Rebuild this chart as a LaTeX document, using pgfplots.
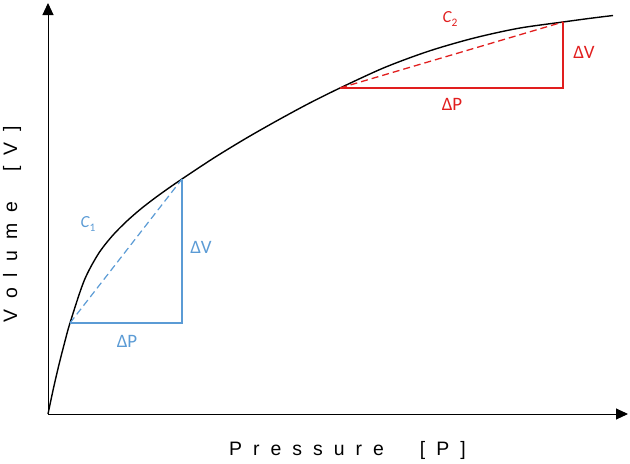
\documentclass[border=0pt]{standalone}
\usepackage{pgfplots}
\pgfplotsset{compat=1.18}
\usepackage{fontspec}
\setmainfont{Liberation Sans}
\newfontfamily\calib{Carlito}
\usetikzlibrary{arrows.meta}
\definecolor{cblue}{RGB}{91,155,213}
\definecolor{cred}{RGB}{225,30,30}
\newcommand{\lsp}{\hspace{11bp}}
\newcommand{\cc}[1]{{\calib\itshape\fontsize{17}{19}\selectfont C}\raisebox{-3.5bp}{\calib\fontsize{11.5}{12}\selectfont #1}}
\begin{document}
\begin{tikzpicture}
\useasboundingbox (-48bp,-50bp) rectangle (582bp,414bp);
\begin{axis}[
  at={(0,0)}, anchor=origin,
  x=1bp, y=1bp,
  xmin=0, xmax=580, ymin=0, ymax=411,
  axis lines=left,
  axis line style={line width=1pt,-{Triangle[length=12bp,width=11bp]}},
  xtick=\empty, ytick=\empty,
  clip=false,
]
\addplot[black, line width=1.4pt, smooth, tension=0.5] coordinates {
(0,0)(5.5,25.9)(11,49.5)(16.5,71)(22,91)(36,133)(50,159.6)(64,177.8)(78,192.1)(92,204.4)(106,215.3)(120,225.4)(134,235)(165.6,255.9)(197.2,275.2)(228.8,293.2)(260.4,310.3)(292,326)(336.6,346.5)(381.2,363)(425.8,375.9)(470.4,385.7)(515,392)(540,395.4)(565,398.5)};
\addplot[cblue, line width=1.2pt] coordinates {(22,91)(134,91)(134,235)};
\addplot[cblue, line width=1.2pt, dash pattern=on 7bp off 4bp] coordinates {(22,91)(134,235)};
\addplot[cred, line width=1.2pt] coordinates {(292,326)(515,326)(515,392)};
\addplot[cred, line width=1.3pt, dash pattern=on 7bp off 4bp] coordinates {(292,326)(515,392)};
\node[cblue] at (axis cs:40,190) {\cc{1}};
\node[cred] at (axis cs:402,395) {\cc{2}};
\node[cblue, font=\calib\fontsize{19}{21}\selectfont] at (axis cs:153,167) {ΔV};
\node[cblue, font=\calib\fontsize{19}{21}\selectfont] at (axis cs:79,73) {ΔP};
\node[cred, font=\calib\fontsize{19}{21}\selectfont] at (axis cs:536,362) {ΔV};
\node[cred, font=\calib\fontsize{19}{21}\selectfont] at (axis cs:404,310) {ΔP};
\node[anchor=base west, inner sep=0pt, font=\fontsize{19.5}{22}\selectfont] at (axis cs:181,-41) {P\lsp r\lsp e\lsp s\lsp s\lsp u\lsp r\lsp e\hspace{36bp}[\lsp P\lsp ]};
\node[anchor=base west, rotate=90, inner sep=0pt, font=\fontsize{19.5}{22}\selectfont] at (axis cs:-31,91) {V\lsp o\lsp l\lsp u\lsp m\lsp e\hspace{30bp}[\lsp V\lsp ]};
\end{axis}
\end{tikzpicture}
\end{document}
